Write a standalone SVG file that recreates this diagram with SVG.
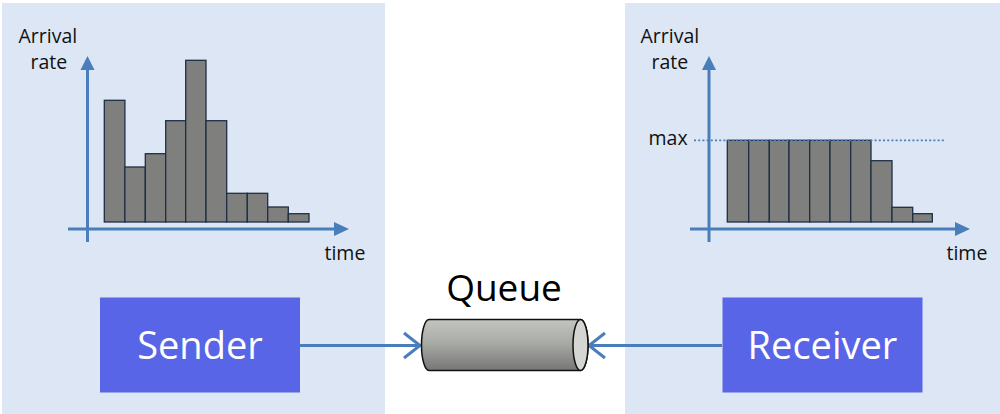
<svg xmlns="http://www.w3.org/2000/svg" width="1000" height="414" viewBox="0 0 1000 414">
<style>
.panel{fill:#dce6f4}
.axis{stroke:#4a7ebb;stroke-width:3;fill:none}
.bar{fill:#7f807e;stroke:#1f2e44;stroke-width:1.3}
.lbl{font-family:"Open Sans",sans-serif;font-size:19.5px;fill:#111}
.box{fill:#5865e6}
.boxt{font-family:"Open Sans",sans-serif;font-size:38px;font-weight:500;fill:#fff;text-anchor:middle}
.conn{stroke:#4a7ebb;stroke-width:3;fill:none}
</style>
<defs>
<linearGradient id="cyl" x1="0" y1="0" x2="0" y2="1">
<stop offset="0" stop-color="#c3c5c1"/>
<stop offset="0.45" stop-color="#a9aba7"/>
<stop offset="1" stop-color="#767775"/>
</linearGradient>
</defs>
<rect class="panel" x="2" y="3" width="383" height="411"/>
<rect class="panel" x="625" y="3" width="375" height="411"/>

<g id="sender-chart">
<g>
<rect class="bar" x="104.3" y="100.3" width="20.6" height="121.7"/>
<rect class="bar" x="124.9" y="167" width="20.4" height="55"/>
<rect class="bar" x="145.3" y="153.7" width="20.4" height="68.3"/>
<rect class="bar" x="165.7" y="120.7" width="20" height="101.3"/>
<rect class="bar" x="185.7" y="60.3" width="20.3" height="161.7"/>
<rect class="bar" x="206" y="120.7" width="20.7" height="101.3"/>
<rect class="bar" x="226.7" y="193.3" width="20.6" height="28.7"/>
<rect class="bar" x="247.3" y="193.3" width="20.4" height="28.7"/>
<rect class="bar" x="267.7" y="207" width="20.6" height="15"/>
<rect class="bar" x="288.3" y="213.7" width="20.7" height="8.3"/>
</g>
<line class="axis" x1="87.5" y1="242" x2="87.5" y2="69"/>
<path d="M80.5,70 L87.5,56 L94.5,70 z" fill="#4a7ebb"/>
<line class="axis" x1="68" y1="229" x2="336" y2="229"/>
<path d="M334,222 L349,229 L334,236 z" fill="#4a7ebb"/>
<text class="lbl" x="18.5" y="43">Arrival</text>
<text class="lbl" x="30.5" y="69">rate</text>
<text class="lbl" x="324.5" y="260">time</text>
</g>

<g id="receiver-chart">
<g>
<rect class="bar" x="727.3" y="140.3" width="21.4" height="81.7"/>
<rect class="bar" x="748.7" y="140.3" width="20.6" height="81.7"/>
<rect class="bar" x="769.3" y="140.3" width="19.7" height="81.7"/>
<rect class="bar" x="789" y="140.3" width="20.7" height="81.7"/>
<rect class="bar" x="809.7" y="140.3" width="20.3" height="81.7"/>
<rect class="bar" x="830" y="140.3" width="20.7" height="81.7"/>
<rect class="bar" x="850.7" y="140.3" width="20.3" height="81.7"/>
<rect class="bar" x="871" y="160.7" width="21" height="61.3"/>
<rect class="bar" x="892" y="207.3" width="20.7" height="14.7"/>
<rect class="bar" x="912.7" y="213.7" width="19.6" height="8.3"/>
</g>
<line x1="694" y1="140.3" x2="945" y2="140.3" stroke="#4a7ebb" stroke-width="1.8" stroke-dasharray="2,2.2"/>
<line class="axis" x1="709" y1="242" x2="709" y2="69"/>
<path d="M702,70 L709,56 L716,70 z" fill="#4a7ebb"/>
<line class="axis" x1="690" y1="229" x2="957" y2="229"/>
<path d="M955,222 L970,229 L955,236 z" fill="#4a7ebb"/>
<text class="lbl" x="640.5" y="43">Arrival</text>
<text class="lbl" x="651.5" y="69">rate</text>
<text class="lbl" x="648.5" y="145">max</text>
<text class="lbl" x="946.5" y="260">time</text>
</g>

<g id="connectors">
<line class="conn" x1="300" y1="345.5" x2="419" y2="345.5"/>
<path class="conn" d="M404,333 L420,345.5 L404,358"/>
<line class="conn" x1="722" y1="345.5" x2="590" y2="345.5"/>
<path class="conn" d="M605,333 L589,345.5 L605,358"/>
</g>

<g id="sender">
<rect class="box" x="100" y="297.5" width="200" height="95"/>
<text class="boxt" x="200" y="358.5">Sender</text>
</g>

<g id="receiver">
<rect class="box" x="722.5" y="297.5" width="200" height="95"/>
<text class="boxt" x="822.5" y="358.5">Receiver</text>
</g>

<g id="queue">
<path d="M429,319.5 L580.5,319.5 A7.5,25.5 0 0 1 580.5,370.5 L429,370.5 A7.5,25.5 0 0 1 429,319.5 z" fill="url(#cyl)" stroke="#111" stroke-width="1.5"/>
<ellipse cx="580.5" cy="345" rx="7.5" ry="25.5" fill="#d4d6d3" stroke="#111" stroke-width="1.5"/>
<text x="504" y="301" font-family="'Open Sans',sans-serif" font-size="37" fill="#000" text-anchor="middle">Queue</text>
</g>
</svg>
